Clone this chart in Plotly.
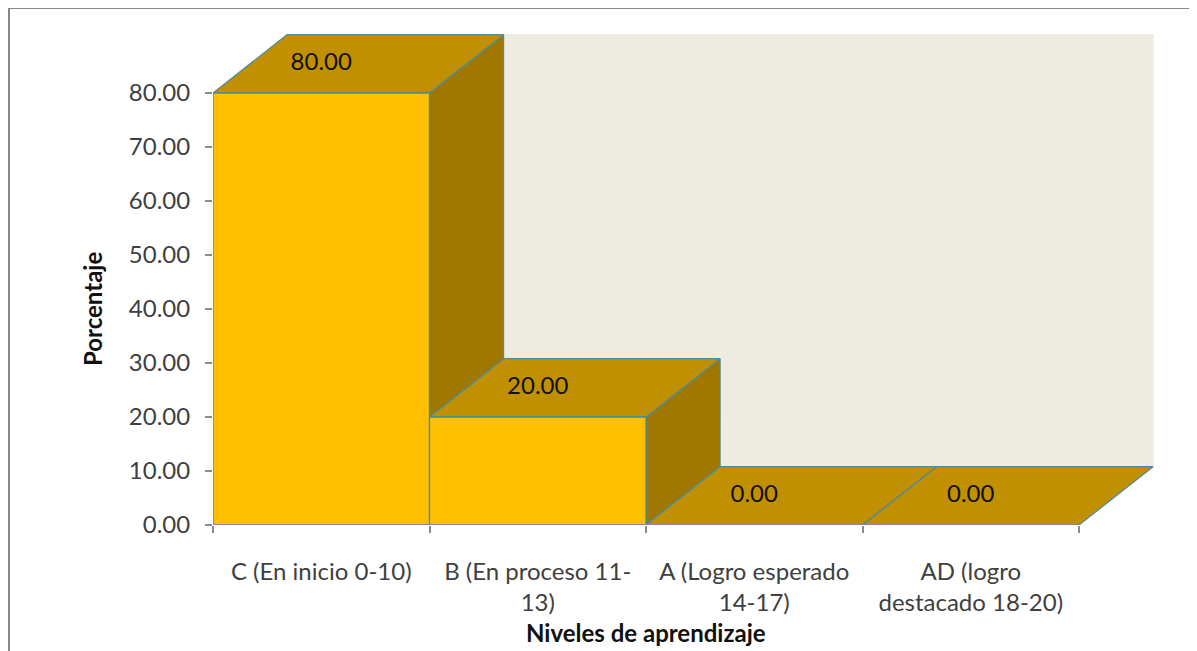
import plotly.graph_objects as go

# datos
categorias = ["C (En inicio 0-10)", "B (En proceso 11-<br>13)",
              "A (Logro esperado<br>14-17)", "AD (logro<br>destacado 18-20)"]
porcentajes = [80.00, 20.00, 0.00, 0.00]
y_ticks = [0, 10, 20, 30, 40, 50, 60, 70, 80]

FRONT = "#FFC000"
TOP = "#C09000"
SIDE = "#A07800"
EDGE = "#4E8C9C"
WALL = "#EEEBE0"
AXIS = "#8C8C8C"
FONT = "Lato"
FS = 24

# profundidad del efecto 3D (en unidades de los ejes)
DX, DY = 0.342, 10.8

W, H = 1197, 651
ML, MR, MT, MB = 205, 39, 20, 134
px_cat = 216.5
px_val = 5.4
PW, PH = W - ML - MR, H - MT - MB
xmax = PW / px_cat
ymax = PH / px_val


def poly(xs, ys, color, edge=EDGE):
    return go.Scatter(x=xs + [xs[0]], y=ys + [ys[0]], mode="lines", fill="toself",
                      fillcolor=color, line=dict(color=edge, width=1.3),
                      hoverinfo="skip", showlegend=False)


fig = go.Figure()

n = len(categorias)
vmax = max(y_ticks)
# pared del fondo
fig.add_trace(poly([DX, n + DX, n + DX, DX], [DY, DY, vmax + DY, vmax + DY], WALL, edge=WALL))

for i, v in enumerate(porcentajes):
    x0, x1 = i, i + 1
    # cara lateral
    if v > 0:
        fig.add_trace(poly([x1, x1 + DX, x1 + DX, x1], [0, DY, v + DY, v], SIDE))
    # cara superior
    fig.add_trace(poly([x0, x1, x1 + DX, x0 + DX], [v, v, v + DY, v + DY], TOP))
    # cara frontal
    if v > 0:
        fig.add_trace(poly([x0, x1, x1, x0], [0, 0, v, v], FRONT))

fig.add_trace(go.Scatter(
    x=[i + 0.5 for i in range(n)], y=[v + DY / 2 for v in porcentajes],
    text=[f"{v:.2f}" for v in porcentajes], mode="text",
    textfont=dict(family=FONT, size=FS, color="#111111"),
    hoverinfo="skip", showlegend=False))

fig.update_layout(
    width=W, height=H,
    margin=dict(l=ML, r=MR, t=MT, b=MB),
    paper_bgcolor="white", plot_bgcolor="rgba(0,0,0,0)",
    font=dict(family=FONT, size=FS, color="#404040"),
    xaxis=dict(range=[0, xmax], tickvals=[i + 0.5 for i in range(n)], ticktext=categorias,
               ticks="", showgrid=False, zeroline=False, showline=False,
               ticklabelstandoff=30, tickfont=dict(size=FS, color="#404040"),
               minor=dict(tickvals=list(range(n + 1)), ticks="outside", ticklen=7,
                          tickcolor=AXIS, tickwidth=1.5, showgrid=False)),
    yaxis=dict(range=[0, ymax], tickvals=y_ticks, ticktext=[f"{t:.2f}" for t in y_ticks],
               ticks="outside", ticklen=7, tickcolor=AXIS, tickwidth=1.5,
               showgrid=False, zeroline=False, showline=False, ticklabelstandoff=10,
               tickfont=dict(size=FS, color="#404040")),
    shapes=[
        dict(type="line", xref="x", yref="y", x0=0, x1=0, y0=0, y1=vmax,
             line=dict(color=AXIS, width=1.5), layer="above"),
        dict(type="line", xref="x", yref="y", x0=0, x1=n, y0=0, y1=0,
             line=dict(color=AXIS, width=1.5), layer="above"),
        dict(type="rect", xref="paper", yref="paper",
             x0=(1 - ML) / PW, x1=(1187 - ML) / PW,
             y0=-0.3, y1=(H - MB) / PH,
             line=dict(color="#888888", width=2), fillcolor="rgba(0,0,0,0)", layer="below"),
    ],
    annotations=[
        dict(text="<b>Niveles de aprendizaje</b>", xref="x", yref="paper", x=n / 2,
             y=(H - MB - 624) / PH, showarrow=False, yanchor="middle",
             font=dict(family=FONT, size=FS, color="#111111")),
        dict(text="<b>Porcentaje</b>", xref="paper", yref="y",
             x=(84 - ML) / PW, y=vmax / 2, textangle=-90, showarrow=False,
             xanchor="center", font=dict(family=FONT, size=FS, color="#111111")),
    ],
)

fig.write_html("out.html")
